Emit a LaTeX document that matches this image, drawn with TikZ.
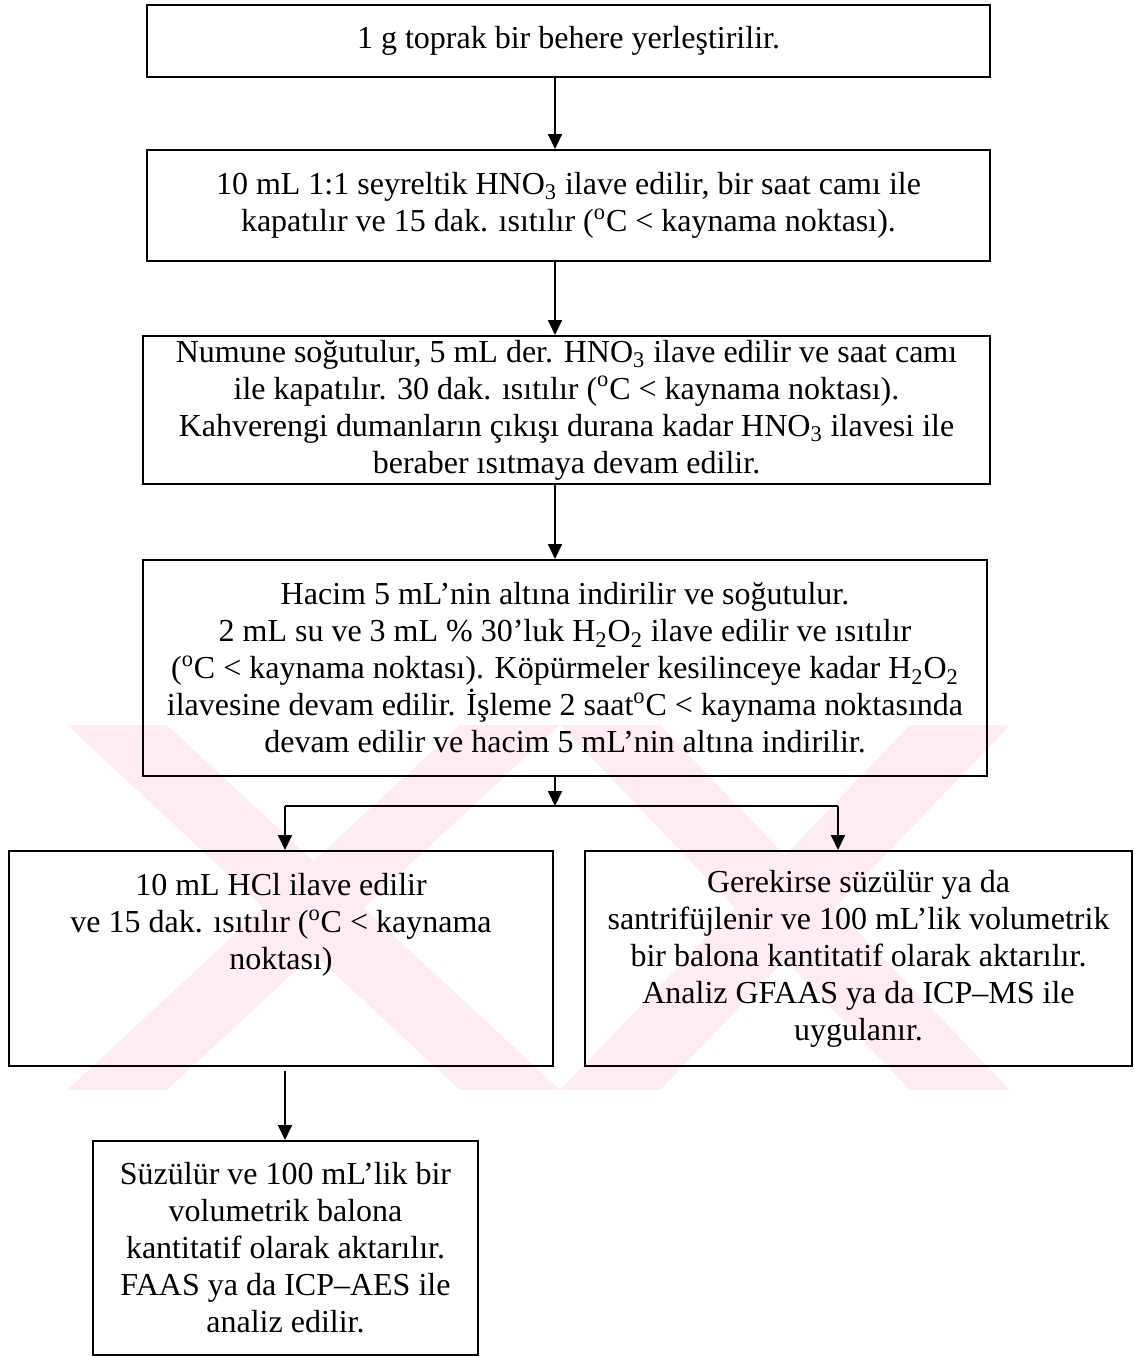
\documentclass[tikz,border=0pt]{standalone}
\usepackage{fontspec}
\setmainfont{Liberation Serif}
\usetikzlibrary{arrows.meta}
\definecolor{wmpink}{RGB}{254,236,240}
\tikzset{
  stepbox/.style={draw, line width=1pt, align=center, inner sep=0pt, anchor=center,
    font=\fontsize{16}{18.5}\selectfont},
  arr/.style={line width=0.9pt, -{Triangle[width=7pt,length=7.5pt]}},
  link/.style={line width=0.9pt}
}
\begin{document}
\begin{tikzpicture}[x=0.5pt,y=-0.5pt]
    \useasboundingbox (0,0) rectangle (1134,1356);

    % Watermark
    \begin{scope}
        \clip (65,725) rectangle (1012,1090);
        \foreach \l/\r in {67/560,560/1010} {
            \fill[wmpink] (\l,725) -- (\l+100,725) -- (\r,1090) -- (\r-100,1090) -- cycle;
            \fill[wmpink] (\r,725) -- (\r-100,725) -- (\l,1090) -- (\l+100,1090) -- cycle;
        }
    \end{scope}

    % Steps
    \node[stepbox, minimum width=421.5pt, minimum height=36pt] (beher) at (568.5,41)
        {1 g toprak bir behere yerleştirilir.};
    \node[stepbox, minimum width=421.5pt, minimum height=55.5pt] (seyrelt) at (568.5,205.5)
        {10 mL 1:1 seyreltik HNO\textsubscript{3} ilave edilir, bir saat camı ile\\
         kapatılır ve 15 dak. ısıtılır (\textsuperscript{o}C < kaynama noktası).};
    \node[stepbox, minimum width=423.5pt, minimum height=74pt] (derisit) at (566.5,410)
        {Numune soğutulur, 5 mL der. HNO\textsubscript{3} ilave edilir ve saat camı\\
         ile kapatılır. 30 dak. ısıtılır (\textsuperscript{o}C < kaynama noktası).\\
         Kahverengi dumanların çıkışı durana kadar HNO\textsubscript{3} ilavesi ile\\
         beraber ısıtmaya devam edilir.};
    \node[stepbox, minimum width=422pt, minimum height=108pt] (peroksit) at (565,668)
        {Hacim 5 mL’nin altına indirilir ve soğutulur.\\
         2 mL su ve 3 mL \% 30’luk H\textsubscript{2}O\textsubscript{2} ilave edilir ve ısıtılır\\
         (\textsuperscript{o}C < kaynama noktası). Köpürmeler kesilinceye kadar H\textsubscript{2}O\textsubscript{2}\\
         ilavesine devam edilir. İşleme 2 saat\textsuperscript{o}C < kaynama noktasında\\
         devam edilir ve hacim 5 mL’nin altına indirilir.};
    \node[stepbox, minimum width=272pt, minimum height=107.5pt] (hcl) at (281,958.5)
        {10 mL HCl ilave edilir\\
         ve 15 dak. ısıtılır (\textsuperscript{o}C < kaynama\\
         noktası)\\ \mbox{}\\ \mbox{}};
    \node[stepbox, minimum width=273.5pt, minimum height=107.5pt] (gfaas) at (858.5,958.5)
        {Gerekirse süzülür ya da\\
         santrifüjlenir ve 100 mL’lik volumetrik\\
         bir balona kantitatif olarak aktarılır.\\
         Analiz GFAAS ya da ICP–MS ile\\
         uygulanır.};
    \node[stepbox, minimum width=192.5pt, minimum height=107pt] (faas) at (285.5,1248)
        {Süzülür ve 100 mL’lik bir\\
         volumetrik balona\\
         kantitatif olarak aktarılır.\\
         FAAS ya da ICP–AES ile\\
         analiz edilir.};

    % Arrows
    \coordinate (spine) at (555,0);
    \coordinate (split) at (555,806);
    \coordinate (left) at (285,806);
    \coordinate (right) at (838,806);
    \draw[arr] (beher.south -| spine) -- (seyrelt.north -| spine);
    \draw[arr] (seyrelt.south -| spine) -- (derisit.north -| spine);
    \draw[arr] (derisit.south -| spine) -- (peroksit.north -| spine);
    \draw[arr] (peroksit.south -| spine) -- (split);
    \draw[link] (left) -- (right);
    \draw[arr] (left) -- (hcl.north -| left);
    \draw[arr] (right) -- (gfaas.north -| right);
    \draw[arr] ([yshift=-2pt]hcl.south -| left) -- (faas.north -| left);
\end{tikzpicture}
\end{document}
